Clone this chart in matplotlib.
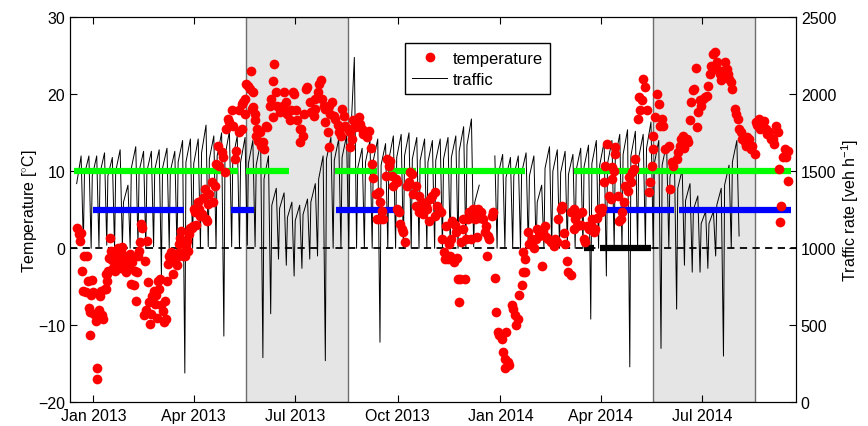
import datetime as dt
import numpy as np
import matplotlib
matplotlib.use('Agg')
import matplotlib.pyplot as plt
import matplotlib.dates as mdates

plt.rcParams['font.family'] = ['Liberation Sans', 'DejaVu Sans']
plt.rcParams['mathtext.fontset'] = 'custom'
plt.rcParams['mathtext.rm'] = 'Liberation Sans'
plt.rcParams['mathtext.it'] = 'Liberation Sans:italic'

# day offsets are counted from 1 Jan 2013
ref_day = dt.date(2013, 1, 1)

temp_day = [
    -15, -13, -12, -11, -10, -9, -8, -7, -6, -5, -4, -3, -3, -2, -1, 0, 1, 2, 3, 3,
    4, 5, 6, 7, 8, 9,
    10, 11, 11, 12, 12, 13, 14, 15, 16, 17, 18, 19, 20, 21, 22, 23, 24, 25, 26, 27,
    28, 29, 30, 31, 32, 33, 34, 35, 36, 37, 38, 39, 40, 41, 42, 43, 44, 45, 46, 47,
    48, 49, 50, 51, 52, 53, 54, 55, 56, 57, 58, 59, 60, 61, 62, 63, 64, 65, 66, 67,
    68, 69, 70, 71, 72, 73, 74, 75, 76, 77, 78, 79, 80, 81, 82, 83, 84, 85, 86, 87,
    88, 89, 90, 91, 92, 94, 95, 96, 97, 98, 100, 101, 102, 103, 104, 106, 107, 109,
    110, 112, 113, 115, 116, 118, 119, 121, 122, 124, 125, 127, 128, 131, 131, 133,
    133, 134, 136, 136, 137, 139, 140, 141, 142, 143, 143, 145, 145, 146, 147, 148,
    149, 150, 152, 153, 155, 156, 158, 159, 161, 161, 162, 164, 165, 167, 168, 170,
    171, 173, 174, 176, 177, 179, 180, 182, 183, 185, 185, 186, 188, 189, 191, 192,
    194, 195,
    198, 199, 199, 201, 202, 204, 205, 207, 208, 208, 210, 211, 211, 212, 214, 216,
    217, 219, 220, 222, 223, 225, 226, 228, 230, 230, 232, 233, 235, 236, 238, 239,
    241, 242, 244, 245, 247, 249, 250, 251, 253, 254, 256, 257, 257, 259, 260, 262,
    263, 265, 266, 268, 269, 271, 272, 272, 274, 275, 277, 278, 279, 281, 283, 284,
    286, 287, 289, 289, 292, 292, 294, 295, 296, 298, 299, 301, 302, 304,
    306, 306, 308, 310, 312, 313, 314, 315, 316, 318, 319, 320, 321, 322, 323, 324,
    325, 326, 327, 328, 329, 330, 331, 331, 333, 334, 336, 337, 339, 340, 342, 343,
    344, 345, 346, 348, 349, 351, 352, 353, 354, 355, 357, 358, 360, 361, 363, 364,
    366, 367, 369, 369, 370, 372, 373, 375, 376, 378, 379, 381, 382, 384, 385, 385,
    387, 387, 390, 391, 393, 395, 397, 398, 400, 402, 403, 405, 406, 408, 410, 412,
    413,
    414, 416, 417, 419, 420, 422, 423, 425, 426, 428, 428, 431, 431, 432, 434, 435,
    437, 438, 440, 441, 443, 444, 446, 447, 449, 450, 452, 453, 455, 456, 458, 459,
    461, 462, 464, 465, 465, 467, 468, 468, 470, 471, 473, 474, 476, 477, 479, 480,
    482, 483, 485, 486, 488, 489, 490, 492, 493, 495, 496, 498, 499, 501, 502, 502,
    504, 505, 507, 508, 510, 511, 513, 516, 517, 519, 520,
    523, 524, 526, 527, 529, 530, 532, 533, 535, 536, 538, 539, 540, 541, 542, 544,
    545, 547, 548, 550, 551, 553, 554, 556, 557, 559, 560, 562, 563, 564, 566, 568,
    569, 570, 572, 573, 575, 576, 578, 579, 581, 582, 584, 585, 586, 588, 590, 591,
    593, 594, 595, 597, 598, 600, 601, 603, 604, 606, 608, 609, 610, 612, 614, 615,
    616, 617, 618, 620, 621, 623, 623,
]
temp_c = [
    2.6, 1.9, 0.9, 2.0, -3.0, -5.5, -1.0, -5.7, -1.0, -4.2, -7.7, -11.3, -8.3, -6.0, -4.1, -5.7, -8.5, -9.5, -17.0, -15.5,
    -9.0, -8.0, -6.2, -5.5, -8.6, -9.2,
    -5.3, -3.3, -5.3, -4.2, -3.3, -3.0, -1.2, 1.3, -0.3, -1.5, -2.5, -3.0, -2.0, -1.0, 0.0, -1.8, -2.5, -0.5, 0.2, -1.5,
    -2.8, -3.1, -2.0, -1.2, -2.6, -0.8, -4.6, -1.8, -4.8, -3.0, -6.9, -3.1, -1.0, -0.4, 0.8, 3.2, 2.6, -8.7, -1.6, -8.0,
    1.0, -4.4, -7.0, -9.8, -8.5, -6.2, -5.5, -7.2, -6.1, -9.0, -4.2, -5.3, -4.0, -7.4, -8.2, -9.6, -6.8, -9.2, -4.3, -2.0,
    -1.0, -1.2, -0.5, -3.3, -1.5, -0.8, -1.2, -2.2, -0.6, 0.5, 1.4, 2.3, -1.0, -0.5, -1.0, 0.4, 1.0, -0.3, 1.8, 2.7,
    2.7, 2.9, 5.1, 4.7, 3.0, 6.0, 5.1, 4.2, 4.5, 6.5, 7.7, 3.8, 3.6, 5.8, 7.0, 8.6, 6.0, 8.1,
    11.0, 13.3, 10.7, 12.5, 11.8, 9.9, 15.5, 16.8, 16.4, 17.9, 15.9, 11.6, 12.7, 17.9, 15.1, 18.7,
    15.5, 19.0, 19.4, 17.4, 21.3, 21.1, 20.7, 23.0, 18.1, 20.3, 18.3, 16.6, 17.4, 14.6, 15.5, 14.0,
    15.1, 13.3, 13.8, 12.9, 15.9, 15.7, 18.5, 19.4, 21.7, 17.0, 23.9, 20.3, 18.5, 17.7, 18.3, 18.5,
    20.3, 19.0, 17.4, 16.6, 17.9, 20.3, 20.0, 18.0, 16.6, 15.5, 13.8, 15.5, 14.6, 17.4, 20.7, 20.9,
    19.0, 17.7,
    17.2, 19.4, 18.1, 20.3, 21.3, 21.8, 19.4, 18.5, 18.1, 16.4, 15.1, 18.5, 13.1, 17.5, 19.0, 17.2,
    16.8, 16.0, 15.1, 14.6, 18.1, 17.2, 15.9, 15.5, 15.1, 13.1, 14.2, 16.6, 15.8, 16.6, 17.0, 16.1,
    15.5, 14.8, 15.1, 14.4, 15.3, 13.0, 11.0, 9.1, 7.1, 3.8, 7.3, 6.0, 3.8, 4.9, 3.8, 9.4,
    11.6, 10.7, 11.4, 9.4, 8.1, 9.0, 8.6, 5.1, 4.7, 3.2, 2.5, 2.1, 0.8, 8.1, 8.6, 9.9,
    9.7, 7.0, 8.1, 5.5, 6.8, 4.7, 5.0, 6.0, 4.5, 5.5, 5.1, 3.6, 6.4, 6.8,
    7.3, 4.2, 5.5, 5.0, 4.7, 1.2, -0.5, -1.4, 2.9, -1.4, 0.5, -1.0, 1.2, 3.6, -1.8, 3.0,
    2.1, -1.2, -4.0, -7.0, -4.0, 0.8, 2.5, 3.8, -4.0, 1.2, 3.8, 4.7, 1.2, 5.1, 3.8, 4.5,
    1.5, 5.1, 4.0, 4.7, 3.8, 2.1, 2.9, -1.0, 1.6, 1.2, 4.2, 4.7, -3.8, -8.3, -10.9, -11.3,
    -11.8, -13.5, -14.4, -15.5, -10.9, -14.8, -15.2, -7.4, -7.9, -8.7, -10.0, -9.2, -6.1, -4.8, -3.1, -0.5,
    -3.1, -1.4, 2.1, 0.5, 1.2, 0.0, 1.2, 2.5, 1.6, -2.3, 2.1, 2.9, 1.5, 1.2, 0.8, 1.0,
    0.3,
    1.2, 0.8, 3.8, 5.1, 5.5, 2.0, 0.6, -1.6, -3.1, -3.5, 4.7, 5.1, 2.5, 3.8, 2.9, 4.5,
    3.0, 4.7, 1.2, 0.8, 2.9, 2.5, 3.0, 3.8, 2.1, 2.5, 4.0, 5.1, 4.7, 5.3, 8.6, 10.7,
    13.5, 6.8, 6.4, 10.5, 9.0, 10.1, 13.1, 12.3, 6.8, 3.6, 3.8, 4.7, 6.0, 8.1, 7.5, 9.2,
    8.6, 9.9, 10.3, 11.6, 16.8, 19.6, 17.9, 19.2, 22.0, 20.9, 17.9, 7.3, 8.6, 10.7, 12.9, 14.6,
    17.0, 20.0, 18.7, 15.9, 16.8, 15.9, 12.9, 13.3, 7.7, 11.2, 10.7,
    11.6, 12.5, 13.3, 14.2, 14.6, 13.0, 14.2, 13.8, 16.6, 19.0, 20.5, 20.7, 23.4, 15.7, 17.7, 19.2,
    18.5, 19.4, 19.6, 19.8, 21.1, 22.6, 23.7, 25.2, 25.5, 24.2, 23.1, 22.6, 21.8, 23.0, 24.2, 23.3,
    22.6, 22.0, 21.6, 20.7, 18.1, 17.4, 16.8, 15.5, 15.1, 14.2, 13.8, 13.3, 14.5, 14.2, 12.9, 13.3,
    12.3, 16.4, 16.0, 16.8, 15.5, 15.9, 16.5, 15.5, 14.8, 15.1, 14.2, 14.2, 13.5, 15.9, 15.1, 10.3,
    3.4, 5.5, 11.8, 12.9, 11.8, 8.8, 12.7,
]

# weekly traffic readings (veh/h): Monday level, Friday peak, Sunday low
week_start = dt.date(2012, 12, 17)
traffic_mon = [
    1420, 1480, 1470, 1490, 1470, 1500, 1300, 1520, 1500, 1500, 1510, 1520, 1500, 1560, 1560,
    1550, 1620, 1580, 1600, 1600, 1580, 1560, 1550, 1540, 1450, 1280, 1260, 1200, 1180, 1220,
    1300, 1450, 1580, 1570, 1590, 1600, 1520, 1560, 1570, 1540, 1580, 1590, 1600, 1580, 1570,
    1560, 1570, 1580, 1590, 1630, 1670, 1300, np.nan, np.nan, 1480, 1460, 1470, 1490, 1470, 1300,
    1520, 1500, 1490, 1480, 1510, 1530, 1550, 1540, 1550, 1590, 1610, 1600, 1590, 1650, 1550,
    1540, 1460, 1390, 1310, 1250, 1160, 1160, 1280, 1410, 1560,
]
traffic_fri = [
    1600, 1600, 1600, 1620, 1590, 1640, 1410, 1660, 1630, 1630, 1640, 1650, 1630, 1700, 1710,
    1710, 1800, 1730, 1750, 1760, 1730, 1720, 1700, 1690, 1600, 1390, 1360, 1300, 1280, 1320,
    1420, 1600, 1720, 1710, 1730, 2240, 1650, 1700, 1710, 1680, 1730, 1740, 1750, 1720, 1710,
    1700, 1710, 1720, 1730, 1790, 1840, 1410, np.nan, 1600, 1610, 1590, 1600, 1620, 1600, 1410,
    1660, 1640, 1630, 1610, 1650, 1670, 1700, 1690, 1700, 1740, 1770, 1760, 1740, 1820, 1700,
    1680, 1600, 1510, 1420, 1340, 1240, 1240, 1390, 1540, 1700,
]
traffic_sun = [
    1030, 1000, 1010, 1020, 1000, 1010, 1000, 1020, 1000, 1010, 820, 1000, 990, 190, 1000,
    1000, 1010, 1000, 430, 1010, 1000, 1020, 1010, 290, 575, 930, 890, 820, 870, 930,
    950, 270, 1000, 1000, 1000, 1000, 1000, 1000, 390, 1000, 1000, 1000, 1000, 1000, 1000,
    1000, 1000, 1000, 1000, 1000, 1010, np.nan, np.nan, 1000, 1000, 1000, 1000, 1000, 1000, 1000,
    1000, 1000, 1000, 1000, 1000, 540, 1000, 820, 1000, 1000, 230, 1000, 1000, 1000, 350,
    1000, 605, 890, 845, 845, 870, 950, 300, 1000, 1080,
]

# summer windows (grey) and coverage bars at 10 / 5 / 0 degC, as (first day, last day)
summer_spans = [(137, 228), (502, 593)]
green_spans = [(-17, 130), (137, 175), (217, 254), (265, 289), (292, 387), (431, 626)]
blue_spans = [(0, 81), (123, 144), (218, 277), (460, 521), (525, 626)]
black_spans = [(440, 449), (454, 500)]

tick_months = [dt.date(2013, 1, 1), dt.date(2013, 4, 1), dt.date(2013, 7, 1), dt.date(2013, 10, 1),
               dt.date(2014, 1, 1), dt.date(2014, 4, 1), dt.date(2014, 7, 1)]


def to_date(d):
    return ref_day + dt.timedelta(days=int(d))


fig = plt.figure(figsize=(8.68, 4.27), dpi=100)
# traffic axes underneath, temperature axes drawn on top of it
ax2 = fig.add_axes([0.0806, 0.0555, 0.8364, 0.9016])
ax = ax2.twinx()
ax.yaxis.tick_left()
ax.yaxis.set_label_position('left')
ax2.yaxis.tick_right()
ax2.yaxis.set_label_position('right')

for a, b in summer_spans:
    ax2.axvspan(to_date(a), to_date(b), facecolor='#e5e5e5', edgecolor='#6e6e6e', lw=1.0, zorder=0)

tx, ty = [], []
for i in range(len(traffic_mon)):
    mon = week_start + dt.timedelta(days=7 * i)
    tx += [mon, mon + dt.timedelta(days=4), mon + dt.timedelta(days=6)]
    ty += [traffic_mon[i], traffic_fri[i], traffic_sun[i]]
traffic_h, = ax2.plot(tx, ty, color='k', lw=0.7, zorder=2)
ax2.set_ylim(0, 2500)
ax2.set_yticks([0, 500, 1000, 1500, 2000, 2500])
ax2.set_ylabel('Traffic rate [veh h$^{-1}$]', fontsize=11.5, labelpad=2.5)

ax.axhline(0, color='k', ls='--', lw=1.3, dashes=(4, 3), zorder=1)
for spans, col, yv in [(green_spans, '#00ff00', 10), (blue_spans, '#0000ff', 5), (black_spans, 'k', 0)]:
    for a, b in spans:
        ax.plot([to_date(a), to_date(b)], [yv, yv], color=col, lw=4.5, solid_capstyle='butt', zorder=2)

dots, = ax.plot([to_date(d) for d in temp_day], temp_c, 'o', color='#ff0000', ms=7, mec='none', zorder=3)

ax.set_ylim(-20, 30)
ax.set_yticks([-20, -10, 0, 10, 20, 30])
ax.set_ylabel('Temperature [$^{\\circ}$C]', fontsize=11.5, labelpad=-1)
ax.set_xlim(to_date(-21), to_date(630))
ax2.set_xlim(to_date(-21), to_date(630))
ax2.set_xticks(tick_months)
ax2.xaxis.set_major_formatter(mdates.DateFormatter('%b %Y'))

for a in (ax, ax2):
    a.tick_params(direction='in', length=5, width=0.8, labelsize=11.5, top=True)
ax2.tick_params(axis='x', pad=4)

ax.legend([dots, traffic_h], ['temperature', 'traffic'], loc='upper left',
          bbox_to_anchor=(0.4614, 0.9325), fontsize=12, frameon=True, fancybox=False,
          edgecolor='k', framealpha=1, borderaxespad=0, handlelength=2.1,
          handletextpad=0.3, borderpad=0.45, labelspacing=0.35)

fig.savefig('out.png', dpi=100)
